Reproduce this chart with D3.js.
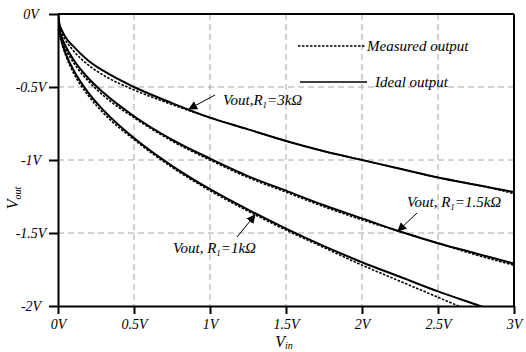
<!DOCTYPE html>
<html>
<head>
<meta charset="utf-8">
<script src="https://cdn.jsdelivr.net/npm/d3@7"></script>
<style>
  body { margin: 0; background: #fff; }
  svg text { font-family: "Liberation Serif", "Times New Roman", serif; font-style: italic; }
</style>
</head>
<body>
<div id="chart"></div>
<script>
// input voltage samples (V)
const vin = [0, 0.01, 0.025, 0.05, 0.1, 0.2, 0.3, 0.5, 0.75, 1, 1.25, 1.5, 1.75, 2, 2.25, 2.5, 2.75, 3];

// ideal / measured output for each R1
const ideal3k = [0, -0.07, -0.11, -0.16, -0.22, -0.32, -0.39, -0.50, -0.61, -0.71, -0.79, -0.87, -0.94, -1.00, -1.06, -1.12, -1.17, -1.22];
const meas3k = [0, -0.08, -0.13, -0.18, -0.25, -0.35, -0.42, -0.52, -0.62, -0.71, -0.79, -0.87, -0.94, -1.00, -1.06, -1.12, -1.17, -1.23];
const ideal1k5 = [0, -0.10, -0.16, -0.22, -0.31, -0.44, -0.54, -0.70, -0.86, -0.99, -1.11, -1.21, -1.31, -1.40, -1.49, -1.57, -1.64, -1.71];
const meas1k5 = [0, -0.11, -0.17, -0.24, -0.33, -0.46, -0.56, -0.71, -0.87, -1.00, -1.12, -1.22, -1.32, -1.41, -1.49, -1.57, -1.65, -1.72];
const ideal1k = [0, -0.12, -0.19, -0.27, -0.38, -0.54, -0.66, -0.85, -1.04, -1.20, -1.34, -1.47, -1.59, -1.70, -1.80, -1.90, -1.99, -2.08];
const meas1k = [0, -0.13, -0.20, -0.28, -0.40, -0.56, -0.68, -0.86, -1.05, -1.21, -1.35, -1.48, -1.60, -1.72, -1.83, -1.94, -2.05, -2.15];

const xTicks = [0, 0.5, 1, 1.5, 2, 2.5, 3];
const xTickLabels = ['0V', '0.5V', '1V', '1.5V', '2V', '2.5V', '3V'];
const yTicks = [0, -0.5, -1, -1.5, -2];
const yTickLabels = ['0V', '-0.5V', '-1V', '-1.5V', '-2V'];

const width = 526, height = 352;
const margin = {top: 14, right: 12, bottom: 46, left: 58};
const w = width - margin.left - margin.right;
const h = height - margin.top - margin.bottom;

const svg = d3.select('#chart').append('svg')
  .attr('width', width)
  .attr('height', height);

const defs = svg.append('defs');
defs.append('clipPath').attr('id', 'plot-clip')
  .append('rect').attr('width', w).attr('height', h);
defs.append('marker')
  .attr('id', 'arrow')
  .attr('viewBox', '0 0 10 10')
  .attr('refX', 9).attr('refY', 5)
  .attr('markerWidth', 9).attr('markerHeight', 9)
  .attr('markerUnits', 'userSpaceOnUse')
  .attr('orient', 'auto')
  .append('path').attr('d', 'M0,0 L10,5 L0,10 z').attr('fill', '#000');

const g = svg.append('g')
  .attr('transform', `translate(${margin.left},${margin.top})`);

const x = d3.scaleLinear().domain([0, 3]).range([0, w]);
const y = d3.scaleLinear().domain([-2, 0]).range([h, 0]);

// gridlines
g.append('g').selectAll('line')
  .data(xTicks.slice(1, -1))
  .enter().append('line')
  .attr('x1', (d) => x(d)).attr('x2', (d) => x(d))
  .attr('y1', 0).attr('y2', h)
  .attr('stroke', '#a6a6a6').attr('stroke-dasharray', '6,4');
g.append('g').selectAll('line')
  .data(yTicks.slice(1, -1))
  .enter().append('line')
  .attr('x1', 0).attr('x2', w)
  .attr('y1', (d) => y(d)).attr('y2', (d) => y(d))
  .attr('stroke', '#a6a6a6').attr('stroke-dasharray', '6,4');

// curves
const series = [
  {vals: ideal3k, dash: null},
  {vals: meas3k, dash: '2.5,1.5'},
  {vals: ideal1k5, dash: null},
  {vals: meas1k5, dash: '2.5,1.5'},
  {vals: ideal1k, dash: null},
  {vals: meas1k, dash: '2.5,1.5'},
];
const line = d3.line()
  .x((d) => x(d[0]))
  .y((d) => y(d[1]))
  .curve(d3.curveMonotoneX);

const curves = g.append('g').attr('clip-path', 'url(#plot-clip)');
series.forEach((s) => {
  curves.append('path')
    .datum(vin.map((v, i) => [v, s.vals[i]]))
    .attr('d', line)
    .attr('fill', 'none')
    .attr('stroke', '#000')
    .attr('stroke-width', s.dash ? 1.6 : 2)
    .attr('stroke-dasharray', s.dash);
});

// axes
const xAxis = g.append('g')
  .attr('transform', `translate(0,${h})`)
  .call(d3.axisBottom(x).tickValues(xTicks)
    .tickFormat((d, i) => xTickLabels[i]).tickSize(8).tickSizeOuter(0).tickPadding(5));
const yAxis = g.append('g')
  .call(d3.axisLeft(y).tickValues(yTicks)
    .tickFormat((d, i) => yTickLabels[i]).tickSize(9).tickSizeOuter(0));
[xAxis, yAxis].forEach((ax) => {
  ax.select('.domain').attr('stroke-width', 2);
  ax.selectAll('.tick line').attr('stroke-width', 2);
  ax.selectAll('.tick text')
    .attr('font-family', '"Liberation Serif", serif')
    .attr('font-style', 'italic')
    .attr('font-size', 14)
    .attr('fill', '#000');
});
yAxis.selectAll('.tick text')
  .attr('text-anchor', 'middle')
  .attr('x', -27)
  .attr('dy', '0.35em');

// top and right frame
g.append('line').attr('x1', 0).attr('x2', w).attr('y1', 0).attr('y2', 0)
  .attr('stroke', '#000').attr('stroke-width', 2);
g.append('line').attr('x1', w).attr('x2', w).attr('y1', 0).attr('y2', h)
  .attr('stroke', '#000').attr('stroke-width', 2);

// axis titles
const xt = svg.append('text')
  .attr('x', 284).attr('y', 347)
  .attr('text-anchor', 'middle')
  .attr('font-size', 16);
xt.append('tspan').text('V');
xt.append('tspan').attr('font-size', 10).attr('dy', 2).text('in');

const yt = svg.append('text')
  .attr('transform', 'translate(18,198) rotate(-90)')
  .attr('text-anchor', 'middle')
  .attr('font-size', 16);
yt.append('tspan').text('V');
yt.append('tspan').attr('font-size', 10).attr('dy', 3).text('out');

// legend
const legend = svg.append('g');
legend.append('line')
  .attr('x1', 298).attr('x2', 366).attr('y1', 46).attr('y2', 46)
  .attr('stroke', '#000').attr('stroke-width', 1.6).attr('stroke-dasharray', '2.5,1.5');
legend.append('text').attr('x', 367).attr('y', 51).attr('font-size', 15).text('Measured output');
legend.append('line')
  .attr('x1', 300).attr('x2', 367).attr('y1', 82).attr('y2', 82)
  .attr('stroke', '#000').attr('stroke-width', 1.5);
legend.append('text').attr('x', 375).attr('y', 87).attr('font-size', 15).text('Ideal output');

// annotations
const notes = [
  {tx: 223, ty: 105, pre: 'Vout,R', post: '=3kΩ', ax1: 215, ay1: 95, ax2: 189, ay2: 109},
  {tx: 407, ty: 207, pre: 'Vout, R', post: '=1.5kΩ', ax1: 417, ay1: 213, ax2: 398, ay2: 231},
  {tx: 173, ty: 253, pre: 'Vout, R', post: '=1kΩ', ax1: 237, ay1: 237, ax2: 255, ay2: 215},
];
notes.forEach((n) => {
  const t = svg.append('text').attr('x', n.tx).attr('y', n.ty).attr('font-size', 15);
  t.append('tspan').text(n.pre);
  t.append('tspan').attr('font-size', 9).attr('dy', 3).text('1');
  t.append('tspan').attr('dy', -3).text(n.post);
  svg.append('line')
    .attr('x1', n.ax1).attr('y1', n.ay1).attr('x2', n.ax2).attr('y2', n.ay2)
    .attr('stroke', '#000').attr('stroke-width', 1)
    .attr('marker-end', 'url(#arrow)');
});
</script>
</body>
</html>
